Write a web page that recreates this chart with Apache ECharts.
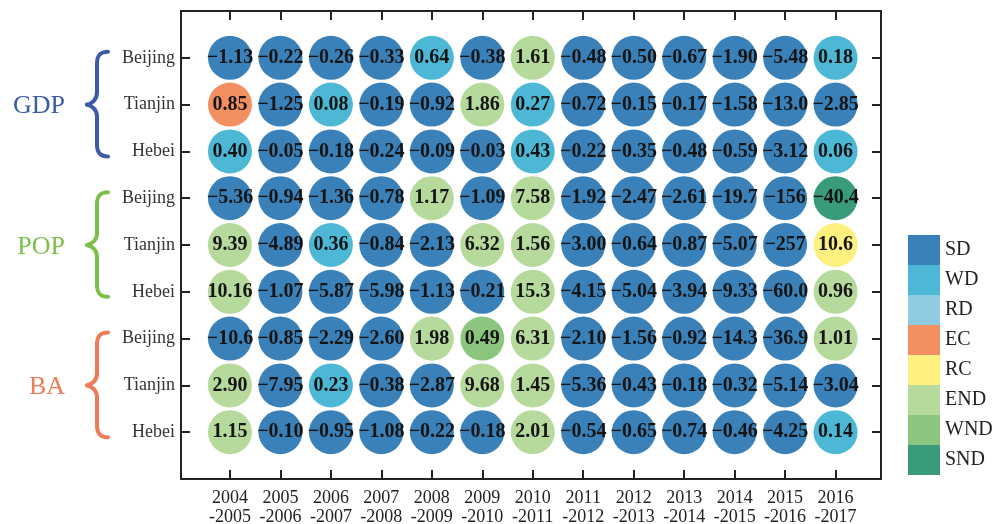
<!DOCTYPE html>
<html>
<head>
<meta charset="utf-8">
<title>Decoupling states, Beijing–Tianjin–Hebei</title>
<script src="https://cdn.jsdelivr.net/npm/echarts@6/dist/echarts.min.js"></script>
<style>
  html, body { margin: 0; padding: 0; background: #fff; }
  #chart { width: 1006px; height: 524px; }
</style>
</head>
<body>
<div id="chart"></div>
<script>
// Periods along the x axis
const periods = ['2004\n-2005', '2005\n-2006', '2006\n-2007', '2007\n-2008', '2008\n-2009',
  '2009\n-2010', '2010\n-2011', '2011\n-2012', '2012\n-2013', '2013\n-2014',
  '2014\n-2015', '2015\n-2016', '2016\n-2017'];

// Rows: three indicators, each for three regions
const regions = ['Beijing', 'Tianjin', 'Hebei',
  'Beijing', 'Tianjin', 'Hebei',
  'Beijing', 'Tianjin', 'Hebei'];
const indicators = ['GDP', 'POP', 'BA'];
const indicatorColors = ['#3c5ba4', '#7dbf4b', '#ee7b55'];

// Decoupling states and their colours
const states = ['SD', 'WD', 'RD', 'EC', 'RC', 'END', 'WND', 'SND'];
const stateColors = ['#3b81b9', '#4cb8d5', '#8ecae0', '#f38f60', '#fdf07f', '#b6d99c', '#8cc57d', '#3a9a7c'];

// Elasticity values as printed, one list per row
const gdpBeijing = ['-1.13', '-0.22', '-0.26', '-0.33', '0.64', '-0.38', '1.61', '-0.48', '-0.50', '-0.67', '-1.90', '-5.48', '0.18'];
const gdpTianjin = ['0.85', '-1.25', '0.08', '-0.19', '-0.92', '1.86', '0.27', '-0.72', '-0.15', '-0.17', '-1.58', '-13.0', '-2.85'];
const gdpHebei = ['0.40', '-0.05', '-0.18', '-0.24', '-0.09', '-0.03', '0.43', '-0.22', '-0.35', '-0.48', '-0.59', '-3.12', '0.06'];
const popBeijing = ['-5.36', '-0.94', '-1.36', '-0.78', '1.17', '-1.09', '7.58', '-1.92', '-2.47', '-2.61', '-19.7', '-156', '-40.4'];
const popTianjin = ['9.39', '-4.89', '0.36', '-0.84', '-2.13', '6.32', '1.56', '-3.00', '-0.64', '-0.87', '-5.07', '-257', '10.6'];
const popHebei = ['10.16', '-1.07', '-5.87', '-5.98', '-1.13', '-0.21', '15.3', '-4.15', '-5.04', '-3.94', '-9.33', '-60.0', '0.96'];
const baBeijing = ['-10.6', '-0.85', '-2.29', '-2.60', '1.98', '0.49', '6.31', '-2.10', '-1.56', '-0.92', '-14.3', '-36.9', '1.01'];
const baTianjin = ['2.90', '-7.95', '0.23', '-0.38', '-2.87', '9.68', '1.45', '-5.36', '-0.43', '-0.18', '-0.32', '-5.14', '-3.04'];
const baHebei = ['1.15', '-0.10', '-0.95', '-1.08', '-0.22', '-0.18', '2.01', '-0.54', '-0.65', '-0.74', '-0.46', '-4.25', '0.14'];

// Decoupling state of each cell, one list per row
const gdpBeijingState = ['SD', 'SD', 'SD', 'SD', 'WD', 'SD', 'END', 'SD', 'SD', 'SD', 'SD', 'SD', 'WD'];
const gdpTianjinState = ['EC', 'SD', 'WD', 'SD', 'SD', 'END', 'WD', 'SD', 'SD', 'SD', 'SD', 'SD', 'SD'];
const gdpHebeiState = ['WD', 'SD', 'SD', 'SD', 'SD', 'SD', 'WD', 'SD', 'SD', 'SD', 'SD', 'SD', 'WD'];
const popBeijingState = ['SD', 'SD', 'SD', 'SD', 'END', 'SD', 'END', 'SD', 'SD', 'SD', 'SD', 'SD', 'SND'];
const popTianjinState = ['END', 'SD', 'WD', 'SD', 'SD', 'END', 'END', 'SD', 'SD', 'SD', 'SD', 'SD', 'RC'];
const popHebeiState = ['END', 'SD', 'SD', 'SD', 'SD', 'SD', 'END', 'SD', 'SD', 'SD', 'SD', 'SD', 'END'];
const baBeijingState = ['SD', 'SD', 'SD', 'SD', 'END', 'WND', 'END', 'SD', 'SD', 'SD', 'SD', 'SD', 'END'];
const baTianjinState = ['END', 'SD', 'WD', 'SD', 'SD', 'END', 'END', 'SD', 'SD', 'SD', 'SD', 'SD', 'SD'];
const baHebeiState = ['END', 'SD', 'SD', 'SD', 'SD', 'SD', 'END', 'SD', 'SD', 'SD', 'SD', 'SD', 'WD'];

const rowValues = [gdpBeijing, gdpTianjin, gdpHebei, popBeijing, popTianjin, popHebei, baBeijing, baTianjin, baHebei];
const rowStates = [gdpBeijingState, gdpTianjinState, gdpHebeiState, popBeijingState, popTianjinState,
  popHebeiState, baBeijingState, baTianjinState, baHebeiState];

const SERIF = '"Liberation Serif", "Times New Roman", serif';
const colIdx = periods.map((_, i) => i);
const rowIdx = regions.map((_, j) => j);

// One scatter series per decoupling state; label shows the printed value
const series = states.map((st, k) => {
  const data = [];
  rowValues.forEach((row, j) => {
    row.forEach((txt, i) => {
      if (rowStates[j][i] === st) data.push({ value: [i, j, parseFloat(txt)], text: txt });
    });
  });
  return {
    name: st,
    type: 'scatter',
    data: data,
    symbol: 'circle',
    symbolSize: 44,
    itemStyle: { color: stateColors[k], opacity: 1 },
    label: {
      show: true,
      position: 'inside',
      fontFamily: SERIF,
      fontWeight: 'bold',
      fontSize: 20,
      color: '#151515',
      formatter: p => p.data.text.replace('-', '\u2212')
    },
    emphasis: { disabled: true },
    z: 2
  };
});

const axisLine = { show: true, onZero: false, lineStyle: { color: '#222', width: 2 } };
const tick = (vals) => ({ show: true, inside: true, length: 9, lineStyle: { color: '#222', width: 2 }, customValues: vals });

const chart = echarts.init(document.getElementById('chart'), null, { renderer: 'canvas' });
chart.setOption({
  animation: false,
  backgroundColor: '#fff',
  grid: { left: 181, top: 11, right: 125, bottom: 45, containLabel: false, outerBoundsMode: 'none' },
  xAxis: [{
    type: 'value', position: 'bottom', min: -0.97, max: 12.9,
    axisLine: axisLine, axisTick: tick(colIdx), splitLine: { show: false },
    axisLabel: {
      customValues: colIdx, margin: 10,
      fontFamily: SERIF, fontSize: 18, lineHeight: 19, color: '#222',
      formatter: v => periods[Math.round(v)]
    }
  }, {
    type: 'value', position: 'top', min: -0.97, max: 12.9,
    axisLine: axisLine, axisTick: tick(colIdx), splitLine: { show: false },
    axisLabel: { show: false }
  }],
  yAxis: [{
    type: 'value', position: 'left', inverse: true, min: -1, max: 9,
    axisLine: axisLine, axisTick: tick(rowIdx), splitLine: { show: false },
    axisLabel: {
      customValues: rowIdx, margin: 6,
      fontFamily: SERIF, fontSize: 18, color: '#333',
      formatter: v => regions[Math.round(v)]
    }
  }, {
    type: 'value', position: 'right', inverse: true, min: -1, max: 9,
    axisLine: axisLine, axisTick: tick(rowIdx), splitLine: { show: false },
    axisLabel: { show: false }
  }],
  legend: {
    orient: 'vertical', left: 903, top: 230,
    data: states, icon: 'rect', itemWidth: 32, itemHeight: 30, itemGap: 0,
    selectedMode: false,
    textStyle: { fontFamily: SERIF, fontSize: 20, color: '#222' }
  },
  series: series
});

// Indicator names with curly braces spanning their three rows
const graphics = [];
indicators.forEach((name, g) => {
  const yTop = chart.convertToPixel({ yAxisIndex: 0 }, 3 * g) - 6;
  const yMid = chart.convertToPixel({ yAxisIndex: 0 }, 3 * g + 1);
  const yBot = chart.convertToPixel({ yAxisIndex: 0 }, 3 * g + 2) + 5;
  const xe = 108, xs = 97, xt = 87;
  const stroke = { fill: null, stroke: indicatorColors[g], lineWidth: 4, lineCap: 'round' };
  const curve = (x1, y1, c1x, c1y, c2x, c2y, x2, y2) => ({
    type: 'bezierCurve',
    shape: { x1: x1, y1: y1, cpx1: c1x, cpy1: c1y, cpx2: c2x, cpy2: c2y, x2: x2, y2: y2 },
    style: stroke
  });
  const line = (x1, y1, x2, y2) => ({ type: 'line', shape: { x1: x1, y1: y1, x2: x2, y2: y2 }, style: stroke });
  graphics.push(curve(xe, yTop, xs + 3, yTop, xs, yTop + 4, xs, yTop + 12));
  graphics.push(line(xs, yTop + 12, xs, yMid - 12));
  graphics.push(curve(xs, yMid - 12, xs, yMid - 5, xt + 5, yMid - 1, xt, yMid));
  graphics.push(curve(xt, yMid, xt + 5, yMid + 1, xs, yMid + 5, xs, yMid + 12));
  graphics.push(line(xs, yMid + 12, xs, yBot - 12));
  graphics.push(curve(xs, yBot - 12, xs, yBot - 4, xs + 3, yBot, xe, yBot));
  graphics.push({
    type: 'text', x: 65, y: yMid + 2,
    style: {
      text: name, fill: indicatorColors[g], font: '26px ' + SERIF,
      align: 'right', verticalAlign: 'middle'
    }
  });
});
chart.setOption({ graphic: graphics });
</script>
</body>
</html>
